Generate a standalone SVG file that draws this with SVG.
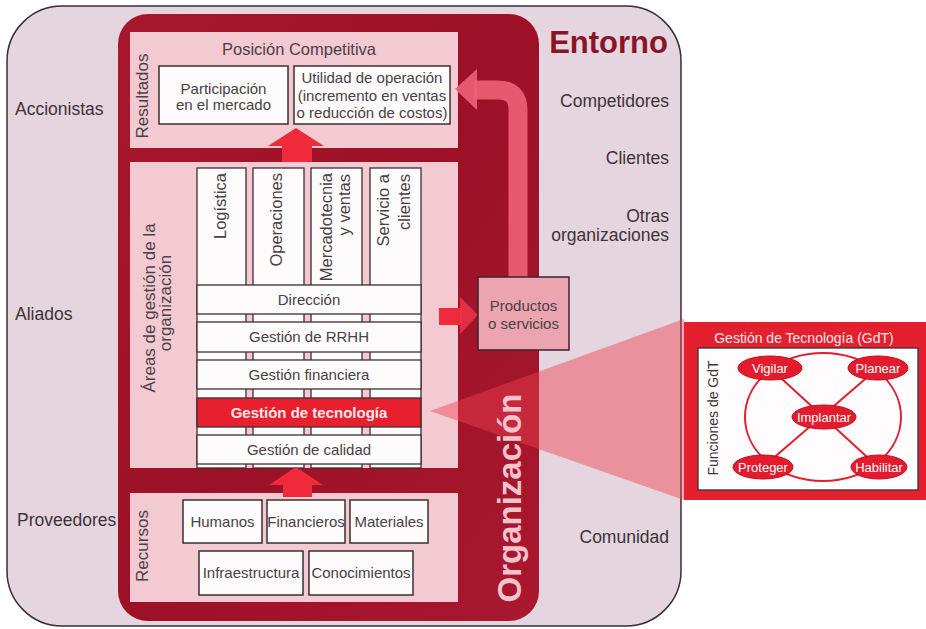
<svg xmlns="http://www.w3.org/2000/svg" width="926" height="629" viewBox="0 0 926 629">
<defs>
<style>
text{font-family:"Liberation Sans",Arial,sans-serif;fill:#3d3337}
.lbl{font-size:17.5px}
.sm{font-size:15px;fill:#4a4145}
.rot{font-size:17px;fill:#4a4145}
.crot{font-size:16.5px;fill:#4a4145}
.panel{fill:#f3c9d2}
.wbox{fill:#fdfbfc;stroke:#3b2f33;stroke-width:1.5}
.col{fill:#fdfbfc;stroke:#3b2f33;stroke-width:1.3}
.row{fill:#fdfbfc;stroke:#3b2f33;stroke-width:1.3}
.arrow{fill:#ef2b3b}
.node{fill:#e31b2d;stroke:#c0101f;stroke-width:1}
.ntxt{font-size:13px;fill:#ffffff}
.gline{stroke:#e0202e;stroke-width:2;fill:none}
</style>
<linearGradient id="orgGrad" x1="0" y1="0" x2="1" y2="1">
<stop offset="0" stop-color="#a8172d"/>
<stop offset="0.5" stop-color="#9c1127"/>
<stop offset="1" stop-color="#a9182e"/>
</linearGradient>
</defs>

<g id="entorno">
<rect x="7" y="6" width="674" height="620" rx="55" ry="55" fill="#e4d5de" stroke="#3a2c33" stroke-width="1.5"/>
<text x="668" y="53" font-size="31" font-weight="bold" text-anchor="end" style="fill:#8a1427">Entorno</text>
<text class="lbl" x="15" y="115">Accionistas</text>
<text class="lbl" x="15" y="320">Aliados</text>
<text class="lbl" x="17" y="526">Proveedores</text>
<text class="lbl" x="669" y="107" text-anchor="end">Competidores</text>
<text class="lbl" x="669" y="164" text-anchor="end">Clientes</text>
<text class="lbl" x="669" y="222" text-anchor="end">Otras</text>
<text class="lbl" x="669" y="241" text-anchor="end">organizaciones</text>
<text class="lbl" x="669" y="543" text-anchor="end">Comunidad</text>
</g>

<g id="organizacion">
<rect x="118" y="14" width="421" height="607" rx="30" ry="30" fill="url(#orgGrad)"/>
</g>

<g id="resultados">
<rect class="panel" x="130" y="32" width="328" height="116"/>
<text x="299" y="55" text-anchor="middle" style="font-size:16.5px;fill:#4a4145">Posición Competitiva</text>
<text class="rot" transform="translate(148,96) rotate(-90)" text-anchor="middle">Resultados</text>
<g id="participacion">
<rect class="wbox" x="159" y="66" width="129" height="58"/>
<text class="sm" x="223.5" y="94" text-anchor="middle">Participación</text>
<text class="sm" x="223.5" y="110" text-anchor="middle">en el mercado</text>
</g>
<g id="utilidad">
<rect class="wbox" x="294" y="66" width="156" height="58"/>
<text class="sm" x="372" y="83" text-anchor="middle">Utilidad de operación</text>
<text class="sm" x="372" y="100.5" text-anchor="middle">(incremento en ventas</text>
<text class="sm" x="372" y="118" text-anchor="middle">o reducción de costos)</text>
</g>
</g>

<g id="areas">
<rect class="panel" x="130" y="162" width="328" height="306"/>
<text class="rot" transform="translate(155,308) rotate(-90)" text-anchor="middle">Áreas de gestión de la</text>
<text class="rot" transform="translate(171,303) rotate(-90)" text-anchor="middle">organización</text>
<g id="columnas">
<rect class="col" x="197" y="168" width="49" height="300"/>
<rect class="col" x="253" y="168" width="51" height="300"/>
<rect class="col" x="311" y="168" width="51" height="300"/>
<rect class="col" x="370" y="168" width="51" height="300"/>
<text class="crot" transform="translate(226,173) rotate(-90)" text-anchor="end">Logística</text>
<text class="crot" transform="translate(282,173) rotate(-90)" text-anchor="end">Operaciones</text>
<text class="crot" transform="translate(332,173) rotate(-90)" text-anchor="end">Mercadotecnia</text>
<text class="crot" transform="translate(350,174) rotate(-90)" text-anchor="end">y ventas</text>
<text class="crot" transform="translate(389,174) rotate(-90)" text-anchor="end">Servicio a</text>
<text class="crot" transform="translate(410,174) rotate(-90)" text-anchor="end">clientes</text>
</g>
<g id="direccion">
<rect class="row" x="197" y="285" width="224" height="29"/>
<text class="sm" x="309" y="305" text-anchor="middle">Dirección</text>
</g>
<g id="rrhh">
<rect class="row" x="197" y="322" width="224" height="30"/>
<text class="sm" x="309" y="342" text-anchor="middle">Gestión de RRHH</text>
</g>
<g id="financiera">
<rect class="row" x="197" y="360" width="224" height="29"/>
<text class="sm" x="309" y="380" text-anchor="middle">Gestión financiera</text>
</g>
<g id="tecnologia">
<rect x="197" y="398" width="224" height="29" fill="#e8202e" stroke="#3b2f33" stroke-width="1.3"/>
<text x="309" y="418" text-anchor="middle" style="font-size:15px;font-weight:bold;fill:#fde8ec">Gestión de tecnología</text>
</g>
<g id="calidad">
<rect class="row" x="197" y="435" width="224" height="29"/>
<text class="sm" x="309" y="455" text-anchor="middle">Gestión de calidad</text>
</g>
</g>

<g id="recursos">
<rect class="panel" x="130" y="493" width="328" height="109"/>
<text class="rot" transform="translate(148,546) rotate(-90)" text-anchor="middle">Recursos</text>
<g id="humanos"><rect class="wbox" x="183" y="500" width="79" height="43"/><text class="sm" x="222.5" y="527" text-anchor="middle">Humanos</text></g>
<g id="financieros"><rect class="wbox" x="267" y="500" width="78" height="43"/><text class="sm" x="306" y="527" text-anchor="middle">Financieros</text></g>
<g id="materiales"><rect class="wbox" x="350" y="500" width="78" height="43"/><text class="sm" x="389" y="527" text-anchor="middle">Materiales</text></g>
<g id="infraestructura"><rect class="wbox" x="199" y="551" width="104" height="44"/><text class="sm" x="251" y="578" text-anchor="middle">Infraestructura</text></g>
<g id="conocimientos"><rect class="wbox" x="309" y="551" width="104" height="44"/><text class="sm" x="361" y="578" text-anchor="middle">Conocimientos</text></g>
</g>

<g id="connectors">
<path d="M518 282 L518 110 Q518 90 498 90 L474 90" fill="none" stroke="#ee6074" stroke-width="19" opacity="0.9"/>
<polygon points="455,89 477,69 477,110" fill="#ee6074" opacity="0.9"/>
<polygon class="arrow" points="282,162 282,146 268,146 296,128 324,146 312,146 312,162"/>
<polygon class="arrow" points="283,497 283,485 269,485 296,467 323,485 312,485 312,497"/>
<rect class="arrow" x="439" y="308" width="23" height="17"/>
<polygon points="460,297 478,315 460,334" fill="#ef3545" opacity="0.85"/>
</g>

<g id="productos">
<rect x="478" y="277" width="91" height="73" fill="#eba4b0" stroke="#3b2228" stroke-width="1.5"/>
<text class="sm" x="523.5" y="311" text-anchor="middle">Productos</text>
<text class="sm" x="523.5" y="329" text-anchor="middle">o servicios</text>
</g>

<g id="cono">
<polygon points="430,411 684,319 684,500" fill="#f04050" opacity="0.45"/>
</g>

<g id="organizacion-label">
<text transform="translate(521,498) rotate(-90)" text-anchor="middle" style="font-size:33px;font-weight:bold;fill:#f6c3cd">Organización</text>
</g>

<g id="gdt">
<rect x="684" y="322" width="242" height="178" fill="#e4202e"/>
<text x="804" y="343" text-anchor="middle" style="font-size:14px;fill:#fde6ea">Gestión de Tecnología (GdT)</text>
<rect x="698" y="348" width="220" height="142" fill="#fefcfc" stroke="#3b2f33" stroke-width="1.3"/>
<text transform="translate(718,418) rotate(-90)" text-anchor="middle" style="font-size:14px;fill:#3d3337">Funciones de GdT</text>
<ellipse class="gline" cx="823" cy="417" rx="78" ry="64"/>
<line class="gline" x1="770" y1="368" x2="878" y2="467"/>
<line class="gline" x1="878" y1="368" x2="763" y2="467"/>
<g id="vigilar"><ellipse class="node" cx="770" cy="368" rx="32" ry="12"/><text class="ntxt" x="770" y="372.5" text-anchor="middle">Vigilar</text></g>
<g id="planear"><ellipse class="node" cx="878" cy="368" rx="30" ry="12"/><text class="ntxt" x="878" y="372.5" text-anchor="middle">Planear</text></g>
<g id="implantar"><ellipse class="node" cx="824" cy="417" rx="32" ry="12"/><text class="ntxt" x="824" y="421.5" text-anchor="middle">Implantar</text></g>
<g id="proteger"><ellipse class="node" cx="763" cy="467" rx="30" ry="12"/><text class="ntxt" x="763" y="471.5" text-anchor="middle">Proteger</text></g>
<g id="habilitar"><ellipse class="node" cx="879" cy="467" rx="28" ry="12"/><text class="ntxt" x="879" y="471.5" text-anchor="middle">Habilitar</text></g>
</g>
</svg>
